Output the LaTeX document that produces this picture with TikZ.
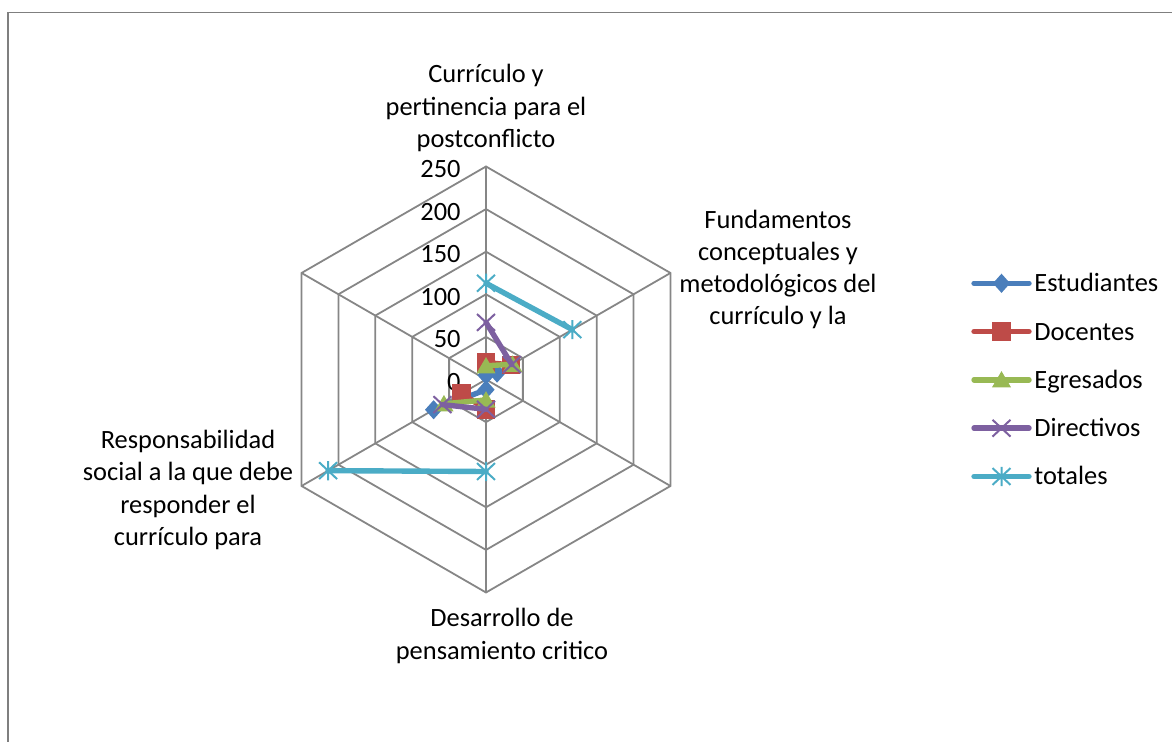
\documentclass[tikz,border=0pt]{standalone}
\usepackage{fontspec}
\setmainfont{Carlito}
\definecolor{rejilla}{HTML}{868686}
\definecolor{cEst}{HTML}{4A7EBB}
\definecolor{cDoc}{HTML}{BE4B48}
\definecolor{cEgr}{HTML}{98B954}
\definecolor{cDir}{HTML}{7D60A0}
\definecolor{cTot}{HTML}{4BACC6}
\newcommand{\chartfont}{\fontsize{13.2}{16.15}\selectfont}
\tikzset{
  gridline/.style={rejilla, line width=0.9pt},
  serie/.style={line width=2.7pt, line cap=round, line join=round, #1},
  lbl/.style={align=center, inner sep=0pt, font=\chartfont},
  mkdiamond/.pic={\fill (0,4.8pt)--(4.3pt,0)--(0,-4.8pt)--(-4.3pt,0)--cycle;},
  mksquare/.pic={\fill (-4.6pt,-4.6pt) rectangle (4.6pt,4.6pt);},
  mktriangle/.pic={\fill (-4.8pt,-3.8pt)--(4.8pt,-3.8pt)--(0,4.4pt)--cycle;},
  mkcross/.pic={\draw[line width=1pt] (-4.5pt,-4.2pt)--(4.5pt,4.2pt) (-4.5pt,4.2pt)--(4.5pt,-4.2pt);},
  mkstar/.pic={\draw[line width=1pt] (-4.5pt,-4.2pt)--(4.5pt,4.2pt) (-4.5pt,4.2pt)--(4.5pt,-4.2pt) (0,-4.8pt)--(0,4.8pt);},
}
\begin{document}
\begin{tikzpicture}[x=0.5pt,y=0.5pt]
  \useasboundingbox (0,0) rectangle (1172,742);
  \draw[rejilla!95!black, line width=0.8pt] (8,0) -- (8,729.5) -- (1172,729.5);
  % radar
  \begin{scope}[shift={(486,362.5)}, x=0.426pt, y=0.426pt]
    \foreach \r in {50,100,...,250}
      \draw[gridline] (90:\r) -- (30:\r) -- (-30:\r) -- (-90:\r) -- (210:\r) -- (150:\r) -- cycle;
    \foreach \a in {90,30,...,-210}
      \draw[gridline] (0,0) -- (\a:250);
    \foreach \v in {0,50,...,250}
      \node[lbl, anchor=east, xshift=-12.5pt, yshift=-1.25pt] (eje\v) at (90:\v) {\v};
    \foreach \col/\mk/\a/\b/\c/\d in {cEst/mkdiamond/5/15/12/71, cDoc/mksquare/20/34/35/33,
        cEgr/mktriangle/16/36/24/57, cDir/mkcross/67/35/35/59, cTot/mkstar/113/117/108/214}{
      \draw[serie=\col] (90:\a) -- (30:\b) (270:\c) -- (210:\d);
      \foreach \ang/\v in {90/\a,30/\b,270/\c,210/\d}
        \pic[\col] at (\ang:\v) {\mk};
    }
  \end{scope}
  % etiquetas
  \node[lbl] (catA) at (486,634) {Currículo y\\pertinencia para el\\postconflicto};
  \node[lbl] (catB) at (778,472.5) {Fundamentos\\conceptuales y\\metodológicos del\\currículo y la};
  \node[lbl] (catC) at (502,106) {Desarrollo de\\pensamiento critico};
  \node[lbl] (catD) at (188,252) {Responsabilidad\\social a la que debe\\responder el\\currículo para};
  % leyenda
  \foreach \col/\mk/\txt [count=\i] in {cEst/mkdiamond/Estudiantes, cDoc/mksquare/Docentes,
      cEgr/mktriangle/Egresados, cDir/mkcross/Directivos, cTot/mkstar/totales}{
    \pgfmathsetmacro\y{458.7-48.3*(\i-1)}
    \draw[serie=\col] (974,\y) -- (1029,\y);
    \pic[\col] at (1001.5,\y) {\mk};
    \node[lbl, anchor=base west] (ley\i) at (1034,{\y-8.5}) {\txt};
  }
\end{tikzpicture}
\end{document}
